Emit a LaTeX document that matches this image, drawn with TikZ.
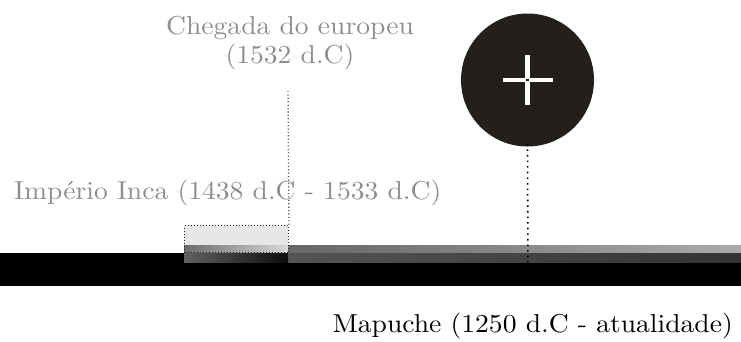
\documentclass[tikz,border=0pt]{standalone}
\usepackage{graphicx}
\definecolor{labelgray}{HTML}{8C8D8F}
\definecolor{discdark}{HTML}{231F1A}
\definecolor{incalight}{HTML}{E6E7E8}
% labels are set at 10pt design size and enlarged
\newcommand{\biglabel}[1]{\scalebox{2.76}[2.59]{\fontsize{10}{11.2}\selectfont #1}}
\tikzset{
  label/.style={inner sep=0pt},
  eventline/.style={draw=labelgray!75!black, line width=1.4pt, dash pattern=on 1.2pt off 2.2pt},
  markerline/.style={draw=black, line width=1.6pt, dash pattern=on 1.6pt off 4pt},
  spanbox/.style={draw=black!85, line width=1pt, dash pattern=on 1pt off 2pt, inner sep=0pt, anchor=north west},
}
\begin{document}
\begin{tikzpicture}[x=1pt,y=-1pt]
\useasboundingbox (0,0) rectangle (741,341);

% base timeline
\fill[black] (0,253) rectangle (741,286);

% Mapuche span
\shade[left color=black!60, right color=black!33] (288,245) rectangle (741,253.5);
\shade[left color=black!67, right color=black!80] (288,253) rectangle (741,262);

% Inca span
\fill[incalight] (184,225) rectangle (288,245);
\shade[left color=black!58, right color=black!15] (184,245) rectangle (288,253.5);
\shade[left color=black!62, right color=black!95] (184,253) rectangle (288,262);
\node[spanbox, minimum width=104pt, minimum height=27pt] (inca) at (184,225) {};

% labels
\node[label, text=labelgray, anchor=base] (chegada) at (290,34.3)
  {\biglabel{\begin{tabular}[t]{@{}c@{}}Chegada do europeu\\(1532 d.C)\end{tabular}}};
\node[label, text=labelgray, anchor=base west] (incalabel) at (14,199.5)
  {\biglabel{Império Inca (1438 d.C - 1533 d.C)}};
\node[label, anchor=base east] (mapuche) at (733,332.5)
  {\biglabel{Mapuche (1250 d.C - atualidade)}};

% event marker for the arrival
\coordinate (chegadafoot) at (288,91);
\draw[eventline] (chegadafoot) -- (inca.north east);

% present-day marker
\node[circle, fill=discdark, minimum size=133pt, inner sep=0pt] (disc) at (527.5,80) {};
\draw[white, line width=4.3pt] ([xshift=-25pt]disc.center) -- ([xshift=25pt]disc.center);
\draw[white, line width=4.3pt] ([yshift=-25pt]disc.center) -- ([yshift=25pt]disc.center);
\fill[discdark] ([shift={(-1.2,-1.2)}]disc.center) rectangle ([shift={(1.2,1.2)}]disc.center);
\coordinate (discfoot) at (528,286);
\draw[markerline] ([yshift=3pt]disc.south) -- (discfoot);
\end{tikzpicture}
\end{document}
